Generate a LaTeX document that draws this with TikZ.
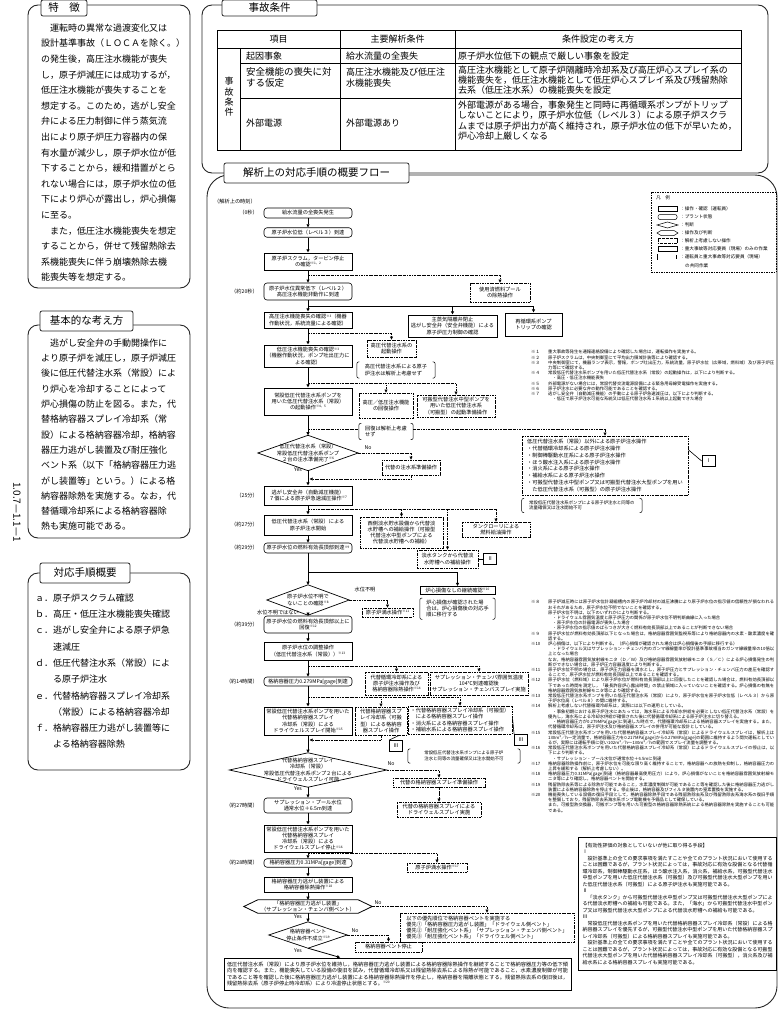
\documentclass[tikz,border=0pt]{standalone}
\usepackage{fontspec}
\setmainfont{Noto Sans CJK JP}
\usepackage{tikz}
\usetikzlibrary{positioning, arrows.meta, calc}
\XeTeXlinebreaklocale "ja"
\XeTeXlinebreakskip=0pt plus 1pt

\newcommand{\fstab}{\fontsize{10.5}{12}\selectfont}
\newcommand{\fsbody}{\fontsize{9}{15.6}\selectfont}
\newcommand{\fstbl}{\fontsize{9}{10}\selectfont}
\newcommand{\fsflow}{\fontsize{5.2}{6.2}\selectfont}
\newcommand{\fssmall}{\fontsize{4.4}{5.4}\selectfont}
\newcommand{\fsnote}{\fontsize{4.3}{5.2}\selectfont}
\newcommand{\fsrem}{\fontsize{5}{6.5}\selectfont}
\newcommand{\fslg}{\fontsize{4.6}{5.5}\selectfont}
\newcommand{\nt}[1]{\raisebox{0.6ex}{\fontsize{3.2}{3.2}\selectfont ※#1}}
% brackets round a note node
\newcommand{\brk}[1]{%
  \draw[line width=0.5pt, rounded corners=2pt] ([xshift=2.5pt]#1.north west) -- (#1.north west) -- (#1.south west) -- ([xshift=2.5pt]#1.south west);
  \draw[line width=0.5pt, rounded corners=2pt] ([xshift=-2.5pt]#1.north east) -- (#1.north east) -- (#1.south east) -- ([xshift=-2.5pt]#1.south east);}
\newcommand{\judgeshape}[1]{\draw[line width=0.7pt] (#1.north) -- (#1.east) -- (#1.south) -- (#1.west) -- cycle;}
\newcommand{\hexshape}[1]{\draw[line width=0.8pt] (#1.west) -- ([xshift=14pt]#1.north west) -- ([xshift=-14pt]#1.north east) -- (#1.east) -- ([xshift=-14pt]#1.south east) -- ([xshift=14pt]#1.south west) -- cycle;}

\begin{document}
\begin{tikzpicture}[x=1pt, y=-1pt,
    frame/.style={draw=black!85, line width=0.9pt, rounded corners=10pt},
    tab/.style={draw=black!85, fill=white, line width=0.8pt, rounded corners=2pt, font=\fstab, inner sep=0pt},
    bodytext/.style={font=\fsbody, align=left, inner sep=0pt, anchor=north west},
    tbl/.style={font=\fstbl, align=left, inner sep=0pt, anchor=west},
    opbox/.style={draw, line width=1pt, font=\fsflow, align=center, inner sep=1pt, minimum width=88pt},
    plantbox/.style={draw, line width=0.6pt, rounded corners=3pt, font=\fsflow, align=center, inner sep=1pt, minimum width=88pt},
    ndbox/.style={draw, line width=0.6pt, dash pattern=on 2.4pt off 0.9pt on 0.6pt off 0.9pt, font=\fsflow, align=center, inner sep=1.2pt},
    brnote/.style={font=\fsflow, align=left, inner xsep=3pt, inner ysep=1pt},
    judge/.style={font=\fsflow, align=center, inner sep=0pt},
    timelbl/.style={font=\fsflow, anchor=east, inner sep=0pt},
    yn/.style={font=\fsflow, inner sep=0pt},
    romanbox/.style={draw, line width=0.8pt, font=\fsflow, minimum width=13pt, minimum height=11pt, inner sep=0pt},
    flow/.style={line width=0.8pt, -{Triangle[length=3.2pt, width=3pt]}},
    ndline/.style={line width=0.6pt, dash pattern=on 2.4pt off 0.9pt on 0.6pt off 0.9pt},
    ndflow/.style={ndline, -{Triangle[length=3.2pt, width=3pt]}},
    notes/.style={font=\fsnote, inner sep=0pt, anchor=north west},
    lgtext/.style={font=\fslg, anchor=west, inner sep=0pt}
]
\useasboundingbox (0,0) rectangle (779,1023);

% Rahmen
\draw[frame] (28,5) rectangle (190,288);
\draw[frame] (28,325) rectangle (190,538);
\draw[frame] (28,573) rectangle (190,770);
\draw[frame] (202,5) rectangle (768,173);
\draw[frame, rounded corners=22pt] (207,175) rectangle (777,1008);

\node[tab, minimum width=46pt, minimum height=16pt] (tabA) at (64,8) {特　徴};
\node[tab, minimum width=93pt, minimum height=20pt] (tabB) at (86.5,321) {基本的な考え方};
\node[tab, minimum width=90pt, minimum height=20pt] (tabC) at (85,573) {対応手順概要};
\node[tab, minimum width=95pt, minimum height=16pt] (tabD) at (269.5,8) {事故条件};
\node[tab, minimum width=185pt, minimum height=20pt] (tabE) at (316.5,173) {解析上の対応手順の概要フロー};

% linke Spalte
\node[bodytext] (txtA) at (41,23.5) {　運転時の異常な過渡変化又は\\設計基準事故（ＬＯＣＡを除く。）\\の発生後，高圧注水機能が喪失\\し，原子炉減圧には成功するが，\\低圧注水機能が喪失することを\\想定する。このため，逃がし安全\\弁による圧力制御に伴う蒸気流\\出により原子炉圧力容器内の保\\有水量が減少し，原子炉水位が低\\下することから，緩和措置がとら\\れない場合には，原子炉水位の低\\下により炉心が露出し，炉心損傷\\に至る。\\　また，低圧注水機能喪失を想定\\することから，併せて残留熱除去\\系機能喪失に伴う崩壊熱除去機\\能喪失等を想定する。};
\node[bodytext, font=\fontsize{9}{15.3}\selectfont] (txtB) at (41,338.5) {　逃がし安全弁の手動開操作に\\より原子炉を減圧し，原子炉減圧\\後に低圧代替注水系（常設）によ\\り炉心を冷却することによって\\炉心損傷の防止を図る。また，代\\替格納容器スプレイ冷却系（常\\設）による格納容器冷却，格納容\\器圧力逃がし装置及び耐圧強化\\ベント系（以下「格納容器圧力逃\\がし装置等」という。）による格\\納容器除熱を実施する。なお，代\\替循環冷却系による格納容器除\\熱も実施可能である。};
\node[bodytext, font=\fontsize{9}{16.3}\selectfont] (txtC) at (35,593.5) {ａ．原子炉スクラム確認\\ｂ．高圧・低圧注水機能喪失確認\\ｃ．逃がし安全弁による原子炉急\\　　速減圧\\ｄ．低圧代替注水系（常設）によ\\　　る原子炉注水\\ｅ．代替格納容器スプレイ冷却系\\　　（常設）による格納容器冷却\\ｆ．格納容器圧力逃がし装置等に\\　　よる格納容器除熱};
\node[rotate=-90, font=\fontsize{10}{10}\selectfont, inner sep=0pt] (pgno) at (17,512) {1.0.7—1.1—1};

% Tabelle Ereignisbedingungen
\draw[line width=0.5pt] (217,30) rectangle (741,150);
\draw[line width=0.5pt] (217,48.3) -- (741,48.3);
\draw[line width=0.5pt] (240,48.3) -- (240,150);
\draw[line width=0.5pt] (340,30) -- (340,150);
\draw[line width=0.5pt] (455,30) -- (455,150);
\draw[line width=0.5pt] (240,63.3) -- (741,63.3);
\draw[line width=0.5pt] (240,98.3) -- (741,98.3);
\node[tbl, anchor=center] (th1) at (278.5,39) {項目};
\node[tbl, anchor=center] (th2) at (397.5,39) {主要解析条件};
\node[tbl, anchor=center] (th3) at (598,39) {条件設定の考え方};
\node[tbl, anchor=center, align=center, font=\fontsize{9}{10.3}\selectfont] (tv) at (229,97) {事\\故\\条\\件};
\node[tbl] (t11) at (246,56) {起因事象};
\node[tbl] (t12) at (346,56) {給水流量の全喪失};
\node[tbl] (t13) at (458,56) {原子炉水位低下の観点で厳しい事象を設定};
\node[tbl, font=\fontsize{9.5}{11.6}\selectfont] (t21) at (246,77.5) {安全機能の喪失に対\\する仮定};
\node[tbl, font=\fontsize{9}{11.6}\selectfont] (t22) at (346,77.5) {高圧注水機能及び低圧注\\水機能喪失};
\node[tbl, font=\fontsize{9}{9.7}\selectfont] (t23) at (458,80) {高圧注水機能として原子炉隔離時冷却系及び高圧炉心スプレイ系の\\機能喪失を，低圧注水機能として低圧炉心スプレイ系及び残留熱除\\去系（低圧注水系）の機能喪失を設定};
\node[tbl] (t31) at (246,123.3) {外部電源};
\node[tbl] (t32) at (346,123.3) {外部電源あり};
\node[tbl, font=\fontsize{9}{10.3}\selectfont] (t33) at (458,120.5) {外部電源がある場合，事象発生と同時に再循環系ポンプがトリップ\\しないことにより，原子炉水位低（レベル３）による原子炉スクラ\\ムまでは原子炉出力が高く維持され，原子炉水位の低下が早いため，\\炉心冷却上厳しくなる};

% Legende
\draw[line width=0.6pt, dash pattern=on 1.5pt off 1pt] (651,192) rectangle (776,272);
\node[lgtext] (lg0) at (656,198) {凡　例};
\draw[line width=1pt] (658,206.5) rectangle (677,211.5);
\draw[line width=0.5pt, rounded corners=2pt] (658,214.5) rectangle (677,219.5);
\draw[line width=0.5pt] (657,225) -- (667.5,222) -- (678,225) -- (667.5,228) -- cycle;
\draw[line width=0.5pt] (657,233) -- (661,230.5) -- (674,230.5) -- (678,233) -- (674,235.5) -- (661,235.5) -- cycle;
\draw[line width=0.6pt, dash pattern=on 2pt off 0.8pt on 0.5pt off 0.8pt] (658,238.5) rectangle (677,243.5);
\draw[line width=0.5pt] (658,246.5) rectangle (677,251.5);
\draw[line width=1.6pt] (658,254.5) rectangle (677,259.5);
\draw[white, line width=0.4pt] (658,254.5) rectangle (677,259.5);
\foreach \i/\yy/\tx in {1/209/：操作・確認（運転員）, 2/217/：プラント状態, 3/225/：判断, 4/233/：操作及び判断, 5/241/：解析上考慮しない操作, 6/249/：重大事故等対応要員（現場）のみの作業, 7/257/：運転員と重大事故等対応要員（現場）}
  \node[lgtext] (lg\i) at (680,\yy) {\tx};
\node[lgtext] (lg8) at (685,266) {の共同作業};

% Hauptstrang
\node[lgtext, font=\fsflow] (tlbl) at (214,202) {（解析上の時刻）};
\node[plantbox, minimum height=10pt] (b1) at (308,213) {給水流量の全喪失発生};
\node[plantbox, minimum height=9.5pt] (b2) at (308,232.5) {原子炉水位低（レベル３）到達};
\node[opbox, minimum height=17pt] (b3) at (308,261.5) {原子炉スクラム，タービン停止\\の確認\nt{1，2}};
\node[plantbox, minimum height=17pt] (b4) at (308,291.5) {原子炉水位異常低下（レベル２）\\高圧注水機能非動作に到達};
\node[opbox, minimum height=16pt] (b5) at (308,320) {高圧注水機能喪失の確認\nt{3}（機器\\作動状況，系統流量による確認）};
\node[opbox, minimum height=22pt] (b6) at (308,356) {低圧注水機能喪失の確認\nt{3}\\（機器作動状況，ポンプ吐出圧力に\\よる確認）};
\node[opbox, minimum height=27pt] (b7) at (308,401.5) {常設低圧代替注水系ポンプを\\用いた低圧代替注水系（常設）\\の起動操作\nt{4，5}};
\node[judge, minimum width=100pt, minimum height=35pt] (d1) at (308,453) {低圧代替注水系（常設）\\常設低圧代替注水系ポンプ\\２台の注水準備完了\nt{6}};
\judgeshape{d1}
\node[opbox, minimum height=19pt] (b8) at (308,495.5) {逃がし安全弁（自動減圧機能）\\７個による原子炉急速減圧操作\nt{7}};
\node[opbox, minimum height=20pt] (b9) at (308,525) {低圧代替注水系（常設）による\\原子炉注水開始};
\node[plantbox, minimum height=10pt] (b10) at (308,548) {原子炉水位の燃料有効長頂部到達\nt{9}};
\node[judge, minimum width=82pt, minimum height=30pt] (d2) at (308,600) {原子炉水位不明で\\ないことの確認\nt{8}};
\judgeshape{d2}
\node[plantbox, minimum height=17pt] (b11) at (308,624.5) {原子炉水位の燃料有効長頂部以上に\\回復\nt{12}};
\node[opbox, minimum height=18pt] (b12) at (308,651) {原子炉水位の調整操作\\（低圧代替注水系（常設））\nt{13}};
\node[plantbox, minimum height=9pt] (b13) at (308,681.5) {格納容器圧力0.279MPa[gage]到達};
\node[opbox, minimum height=28pt] (b14) at (308,721) {常設低圧代替注水系ポンプを用いた\\代替格納容器スプレイ\\冷却系（常設）による\\ドライウェルスプレイ開始\nt{15}};
\node[judge, minimum width=157pt, minimum height=34pt] (d3) at (308,770) {代替格納容器スプレイ\\冷却系（常設）\\常設低圧代替注水系ポンプ２台による\\ドライウェルスプレイ可能};
\judgeshape{d3}
\node[plantbox, minimum height=15pt] (b15) at (308,805.5) {サプレッション・プール水位\\通常水位＋6.5m到達};
\node[opbox, minimum height=27pt] (b16) at (308,838.5) {常設低圧代替注水系ポンプを用いた\\代替格納容器スプレイ\\冷却系（常設）による\\ドライウェルスプレイ停止\nt{16}};
\node[plantbox, minimum height=8.5pt] (b17) at (308,863) {格納容器圧力0.31MPa[gage]到達};
\node[opbox, minimum height=15pt] (b18) at (308,884.5) {格納容器圧力逃がし装置による\\格納容器除熱操作\nt{18}};
\node[judge, minimum width=128pt, minimum height=13pt] (h1) at (308,906.5) {「格納容器圧力逃がし装置」\\（サプレッション・チェンバ側ベント）};
\hexshape{h1}
\node[judge, minimum width=78pt, minimum height=26pt] (d4) at (308,935) {格納容器ベント\\停止条件不成立\nt{19}};
\judgeshape{d4}
\node[opbox, text width=341pt, align=justify, minimum height=32pt, inner sep=3pt] (bf) at (397.5,974) {低圧代替注水系（常設）により原子炉水位を維持し，格納容器圧力逃がし装置による格納容器除熱操作を継続することで格納容器圧力等の低下傾向を確認する。また，機能喪失している設備の復旧を試み，代替循環冷却系又は残留熱除去系による除熱が可能であること，水素濃度制御が可能であること等を確認した後に格納容器圧力逃がし装置による格納容器除熱操作を停止し，格納容器を隔離状態とする。残留熱除去系の復旧後は，残留熱除去系（原子炉停止時冷却系）により冷温停止状態とする。\nt{20}};

% Zeitangaben
\node[timelbl] (tm1) at (258,213) {（0秒）};
\node[timelbl] (tm2) at (258,291.5) {（約20秒）};
\node[timelbl] (tm3) at (258,495.5) {（25分）};
\node[timelbl] (tm4) at (258,525) {（約27分）};
\node[timelbl] (tm5) at (258,548) {（約29分）};
\node[timelbl] (tm6) at (258,624.5) {（約39分）};
\node[timelbl] (tm7) at (258,681.5) {（約14時間）};
\node[timelbl] (tm8) at (258,805.5) {（約27時間）};
\node[timelbl] (tm9) at (258,863) {（約28時間）};

% Nebenzweige
\node[ndbox, minimum width=60pt, minimum height=19pt] (s1) at (500,292.5) {使用済燃料プール\\の除熱操作};
\node[opbox, minimum width=89pt, minimum height=22pt] (s2) at (452.5,326) {主蒸気隔離弁閉止\\逃がし安全弁（安全弁機能）による\\原子炉圧力制御の確認};
\node[opbox, minimum width=57pt, minimum height=23pt] (s3) at (533.5,324.5) {再循環系ポンプ\\トリップの確認};
\node[ndbox, minimum width=49pt, minimum height=17pt] (s4) at (391.5,348.5) {高圧代替注水系の\\起動操作};
\node[brnote, minimum width=78pt, minimum height=16pt] (n1) at (396,370) {高圧代替注水系による原子\\炉注水は解析上考慮せず};
\brk{n1}
\node[ndbox, minimum width=54pt, minimum height=25pt] (s5) at (386,405.5) {高圧／低圧注水機能\\の回復操作};
\node[brnote, minimum width=54pt, minimum height=16pt] (n2) at (386,431.5) {回復は解析上考慮\\せず};
\brk{n2}
\node[ndbox, minimum width=78pt, minimum height=22pt] (s6) at (456,406) {可搬型代替注水中型ポンプを\\用いた低圧代替注水系\\（可搬型）の起動準備操作};
\node[ndbox, minimum width=166pt, minimum height=59pt, align=left, font=\fontsize{5.2}{6.8}\selectfont] (s7) at (605,465.5) {低圧代替注水系（常設）以外による原子炉注水操作\\・代替循環冷却系による原子炉注水操作\\・制御棒駆動水圧系による原子炉注水操作\\・ほう酸水注入系による原子炉注水操作\\・消火系による原子炉注水操作\\・補給水系による原子炉注水操作\\・可搬型代替注水中型ポンプ又は可搬型代替注水大型ポンプを用い\\　た低圧代替注水系（可搬型）の原子炉注水操作};
\node[romanbox] (rI) at (708.5,461) {Ⅰ};
\node[brnote, font=\fssmall, minimum width=120pt, minimum height=14pt, below=3pt of s7.south west, anchor=north west] (n3) {常設低圧代替注水系ポンプによる原子炉注水と同等の\\流量確保又は注水開始不可};
\brk{n3}
\node[ndbox, minimum width=58pt, minimum height=15pt] (s8) at (411,467.5) {代替の注水系準備操作};
\node[ndbox, minimum width=83pt, minimum height=31pt] (s9) at (401.5,532.5) {西側淡水貯水設備から代替淡\\水貯槽への補給操作（可搬型\\代替注水中型ポンプによる\\代替淡水貯槽への補給）};
\node[ndbox, minimum width=61pt, minimum height=18pt] (s10) at (447.5,559) {淡水タンクから代替淡\\水貯槽への補給操作};
\node[romanbox, right=5pt of s10] (rII) {Ⅱ};
\node[ndbox, minimum width=68pt, minimum height=15pt] (s11) at (496,529.5) {タンクローリによる\\燃料給油操作};
\node[opbox, minimum width=75pt, minimum height=8pt] (s12) at (457.5,590.5) {炉心損傷なしの継続確認\nt{10}};
\node[brnote, minimum width=75pt, minimum height=21pt, below=3pt of s12] (n4) {炉心損傷が確認された場\\合は，炉心損傷後の対応手\\順に移行する};
\brk{n4}
\node[ndbox, minimum width=51pt, minimum height=9pt] (s13) at (387.5,612.5) {原子炉満水操作\nt{11}};
\node[ndbox, minimum width=63pt, minimum height=23pt] (s14) at (396.5,683.5) {代替循環冷却系による\\原子炉注水操作及び\\格納容器除熱操作\nt{14}};
\node[ndbox, minimum width=98pt, minimum height=23pt] (s15) at (479,683.5) {サプレッション・チェンバ雰囲気温度\\104℃到達確認後\\サプレッション・チェンバスプレイ実施};
\node[ndbox, minimum width=52pt, minimum height=28pt] (s16) at (381,721) {代替格納容器スプ\\レイ冷却系（可搬\\型）による格納容\\器スプレイ操作};
\node[romanbox] (rIIIa) at (396,746) {Ⅲ};
\node[ndbox, minimum width=104pt, minimum height=28pt, align=left] (s17) at (460,720) {・代替格納容器スプレイ冷却系（可搬型）\\　による格納容器スプレイ操作\\・消火系による格納容器スプレイ操作\\・補給水系による格納容器スプレイ操作};
\node[romanbox] (rIIIb) at (521,740) {Ⅲ};
\node[brnote, font=\fssmall, minimum width=112pt, minimum height=14pt] (n5) at (464,756) {常設低圧代替注水系ポンプによる原子炉\\注水と同等の流量確保又は注水開始不可};
\brk{n5}
\node[ndbox, minimum width=92pt, minimum height=9pt] (s18) at (439,782.5) {代替の格納容器スプレイ準備操作};
\node[ndbox, minimum width=84pt, minimum height=15pt] (s19) at (439,809.5) {代替の格納容器スプレイによる\\ドライウェルスプレイ実施};
\node[ndbox, minimum width=60pt, minimum height=9pt] (s20) at (437,867.5) {原子炉満水操作\nt{17}};
\node[ndbox, minimum width=174pt, minimum height=29pt, align=left] (s21) at (487,927.5) {以下の優先順位で格納容器ベントを実施する\\優先①「格納容器圧力逃がし装置」「ドライウェル側ベント」\\優先②「耐圧強化ベント系」「サプレッション・チェンバ側ベント」\\優先③「耐圧強化ベント系」「ドライウェル側ベント」};
\node[ndbox, minimum width=67pt, minimum height=10pt] (s22) at (388.5,947) {格納容器ベント停止};

% Ja/Nein
\node[yn] (yn1) at (368,448) {No};
\node[yn] (yn2) at (298,470) {Yes};
\node[yn] (yn3) at (365,590) {水位不明};
\node[yn] (yn4) at (278,613) {水位不明ではない};
\node[yn] (yn5) at (391,764) {No};
\node[yn] (yn6) at (298,789) {Yes};
\node[yn] (yn7) at (378,903) {No};
\node[yn] (yn8) at (298,917) {Yes};
\node[yn] (yn9) at (355,931) {No};
\node[yn] (yn10) at (298,951) {Yes};

% Verzweigungspunkte
\coordinate (j1) at (308,275);
\coordinate (j2) at (308,306);
\coordinate (j3) at (308,333);
\coordinate (j4) at (308,383);
\coordinate (j5) at (308,429);
\coordinate (j6) at (308,509);
\coordinate (j7) at (308,572);
\coordinate (j8) at (308,666);
\coordinate (j9) at (308,697);
\coordinate (j10) at (308,853);
\coordinate (r1) at (309.5,479);
\coordinate (r2) at (309.5,740);

% Kanten Hauptstrang
\draw[flow] (b1) -- (b2);
\draw[flow] (b2) -- (b3);
\draw[flow] (b3) -- (b4);
\draw[flow] (b4) -- (b5);
\draw[flow] (b5) -- (b6);
\draw[flow] (b6) -- (b7);
\draw[flow] (b7) -- (d1.north);
\draw[flow] (d1.south) -- (b8);
\draw[flow] (b8) -- (b9);
\draw[flow] (b9) -- (b10);
\draw[flow] (b10) -- (d2.north);
\draw[flow] (d2.south) -- (b11);
\draw[flow] (b11) -- (b12);
\draw[flow] (b12) -- (b13);
\draw[flow] (b13) -- (b14);
\draw[flow] (b14) -- (d3.north);
\draw[flow] (d3.south) -- (b15);
\draw[flow] (b15) -- (b16);
\draw[flow] (b16) -- (b17);
\draw[flow] (b17) -- (b18);
\draw[flow] (b18) -- (h1.north);
\draw[flow] (h1.south) -- (d4.north);
\draw[flow] (d4.south) -- (bf);

% Kanten Nebenzweige
\draw[ndflow] (j1) -| (s1.north);
\draw[flow] (j2) -| (s2.north);
\draw[flow] (j2) -| (s3.north);
\draw[ndflow] (j3) -| (s4.north);
\draw[ndflow] (j4) -| (s5.north);
\draw[ndflow] (j4) -| (s6.north);
\draw[ndline] (j5) -- (j5 -| n2.west);
\draw[ndflow] (j5 -| n2.east) -| (s7.north);
\draw[ndflow] (d1.east) -| (s8.north);
\draw[ndflow] (s8.south) |- (r1);
\draw[ndflow] (j6) -| (s9.north);
\draw[ndflow] (j6) -| (s10.north);
\draw[ndflow] (j6) -| (s11.north);
\draw[flow] (j7) -| (s12.north);
\draw[ndflow] (d2.east) -| (s13.north);
\draw[ndflow] (j8) -| (s14.north);
\draw[ndflow] (j8) -| (s15.north);
\draw[ndflow] (j9) -| (s16.north);
\draw[ndflow] (j9) -| (s17.north);
\draw[ndflow] (s16.south) |- (r2);
\draw[ndflow] (d3.east) -| (s18.north);
\draw[ndflow] (s18.south) -- (s19.north);
\draw[ndflow] (j10) -| (s20.north);
\draw[ndflow] (h1.east) -| (s21.north);
\draw[ndflow] (d4.east) -| (s22.north);
\draw[line width=0.6pt] ([yshift=-14pt]s7.north east) -- (rI.west);
\draw[line width=0.6pt] (s10.east) -- (rII.west);
\draw[line width=0.6pt] ([xshift=-8pt]s16.south east) -- (rIIIa.north west);
\draw[line width=0.6pt] ([yshift=4pt]s17.east) -- (rIIIb.north west);

% Anmerkungen
\node[notes] (notesA) at (531,350) {\begin{tabular}{@{}p{17pt}@{}p{226pt}@{}}
※１ & 重大事故等発生を通報連絡設備により確認した場合は，運転操作を実施する。\\
※２ & 原子炉スクラムは，中央制御室にて平均出力領域計装等により確認する。\\
※３ & 中央制御室にて，機器ランプ表示，警報，ポンプ吐出圧力，系統流量，原子炉水位（広帯域，燃料域）及び原子炉圧力等にて確認する。\\
※４ & 常設低圧代替注水系ポンプを用いた低圧代替注水系（常設）の起動操作は，以下により判断する。\par\hspace*{1em}・高圧・低圧注水機能喪失\\
※５ & 外部電源がない場合には，常設代替交流電源設備による緊急用母線受電操作を実施する。\\
※６ & 原子炉注水に必要な弁の動作可能であることを確認する。\\
※７ & 逃がし安全弁（自動減圧機能）の手動による原子炉急速減圧は，以下により判断する。\par\hspace*{1em}・低圧で原子炉注水可能な系統又は低圧代替注水系１系統以上起動できた場合
\end{tabular}};
\node[notes] (notesB) at (531,600) {\begin{tabular}{@{}p{17pt}@{}p{226pt}@{}}
※８ & 原子炉減圧時には原子炉水位計凝縮槽内の原子炉冷却材の減圧沸騰により原子炉水位の指示値の信頼性が損なわれるおそれがあるため，原子炉水位不明でないことを確認する。\par 原子炉水位不明は，以下のいずれかにより判断する。\par\hspace*{1em}・ドライウェル雰囲気温度と原子炉圧力の関係が原子炉水位不明判断曲線に入った場合\par\hspace*{1em}・原子炉水位の計器電源が喪失した場合\par\hspace*{1em}・原子炉水位の指示値のばらつきが大きく燃料有効長頂部以上であることが判断できない場合\\
※９ & 原子炉水位が燃料有効長頂部以下となった場合は，格納容器雰囲気監視系等により格納容器内の水素・酸素濃度を確認する。\\
※10 & 炉心損傷は，以下により判断する。（炉心損傷が確認された場合は炉心損傷後の手順に移行する）\par\hspace*{1em}・ドライウェル又はサプレッション・チェンバ内のガンマ線線量率が設計基準事故相当のガンマ線線量率の10倍以上となった場合\par なお，格納容器雰囲気放射線モニタ（Ｄ／Ｗ）及び格納容器雰囲気放射線モニタ（Ｓ／Ｃ）による炉心損傷発生の判断ができない場合は，原子炉圧力容器温度により判断する。\\
※11 & 原子炉水位不明の場合は，原子炉圧力容器を満水とし，原子炉圧力とサプレッション・チェンバ圧力の差圧を確認することで，原子炉水位が燃料有効長頂部以上であることを確認する。\\
※12 & 原子炉水位（燃料域）により原子炉水位が燃料有効長頂部以上に回復したことを確認した場合は，燃料有効長頂部以下であった時間を測定し，「最長許容炉心露出時間」の禁止領域に入っていないことを確認する。炉心損傷の有無を格納容器雰囲気放射線モニタ等により確認する。\\
※13 & 常設低圧代替注水系ポンプを用いた低圧代替注水系（常設）により，原子炉水位を原子炉水位低（レベル３）から原子炉水位高（レベル８）の間に維持する。\\
※14 & 解析上考慮しない代替循環冷却系は，実際には以下の運用としている。\par\hspace*{1em}・事象初期における原子炉注水にあたっては，海水系による冷却水供給を必要としない低圧代替注水系（常設）を優先し，海水系による冷却水供給が確保された後に代替循環冷却系による原子炉注水に切り替える。\par\hspace*{1em}・格納容器圧力が0.279MPa[gage]に到達した時点で，代替循環冷却系による格納容器スプレイを実施する。また，代替循環冷却系は，原子炉注水及び格納容器スプレイの併用が可能な設計としている。\\
※15 & 常設低圧代替注水系ポンプを用いた代替格納容器スプレイ冷却系（常設）によるドライウェルスプレイは，解析上は130m³／h一定流量で，格納容器圧力を0.217MPa[gage]から0.279MPa[gage]の範囲に維持するよう間欠運転としているが，実際には運転手順に従い102m³／h～130m³／hの範囲でスプレイ流量を調整する。\\
※16 & 常設低圧代替注水系ポンプを用いた代替格納容器スプレイ冷却系（常設）によるドライウェルスプレイの停止は，以下により判断する。\par\hspace*{1em}・サプレッション・プール水位が通常水位＋6.5mに到達\\
※17 & 格納容器除熱操作前に，原子炉水位を可能な限り高く維持することで，格納容器への放熱を抑制し，格納容器圧力の上昇を緩和する（解析上考慮しない）。\\
※18 & 格納容器圧力0.31MPa[gage]到達（格納容器最高使用圧力）により，炉心損傷がないことを格納容器雰囲気放射線モニタ等により確認し，格納容器ベントを開始する。\\
※19 & 残留熱除去系等による除熱が可能であること，水素濃度制御が可能であること等を確認した後に格納容器圧力逃がし装置による格納容器除熱を停止する。停止後は，格納容器及びフィルタ装置内の窒素置換を実施する。\\
※20 & 機能喪失している設備の復旧手段として，格納容器除熱手段である残留熱除去系及び残留熱除去系海水系の復旧手順を整備しており，残留熱除去系海水系ポンプ電動機を予備品として確保している。\par また，可搬型熱交換器，可搬ポンプ等を用いた可搬型の格納容器除熱系統による格納容器除熱を実施することも可能である。
\end{tabular}};

% weitere Mittel
\node[draw, line width=1pt, text width=190pt, inner sep=4pt, anchor=north west, font=\fsrem, align=justify, minimum height=133pt] (alt) at (578,837) {【有効性評価の対象としていないが他に取り得る手段】\par Ⅰ\par\hspace*{1em}設計基準上の全ての要求事項を満たすことや全てのプラント状況において使用することは困難であるが，プラント状況によっては，事故対応に有効な設備となる代替循環冷却系，制御棒駆動水圧系，ほう酸水注入系，消火系，補給水系，可搬型代替注水中型ポンプを用いた低圧代替注水系（可搬型）及び可搬型代替注水大型ポンプを用いた低圧代替注水系（可搬型）による原子炉注水も実施可能である。\par Ⅱ\par\hspace*{1em}「淡水タンク」から可搬型代替注水中型ポンプ又は可搬型代替注水大型ポンプによる代替淡水貯槽への補給も可能である。また，「海水」から可搬型代替注水中型ポンプ又は可搬型代替注水大型ポンプによる代替淡水貯槽への補給も可能である。\par Ⅲ\par\hspace*{1em}常設低圧代替注水系ポンプを用いた代替格納容器スプレイ冷却系（常設）による格納容器スプレイを優先するが，可搬型代替注水中型ポンプを用いた代替格納容器スプレイ冷却系（可搬型）による格納容器スプレイも実施可能である。\par\hspace*{1em}設計基準上の全ての要求事項を満たすことや全てのプラント状況において使用することは困難であるが，プラント状況によっては，事故対応に有効な設備となる可搬型代替注水大型ポンプを用いた代替格納容器スプレイ冷却系（可搬型），消火系及び補給水系による格納容器スプレイも実施可能である。};

\end{tikzpicture}
\end{document}
